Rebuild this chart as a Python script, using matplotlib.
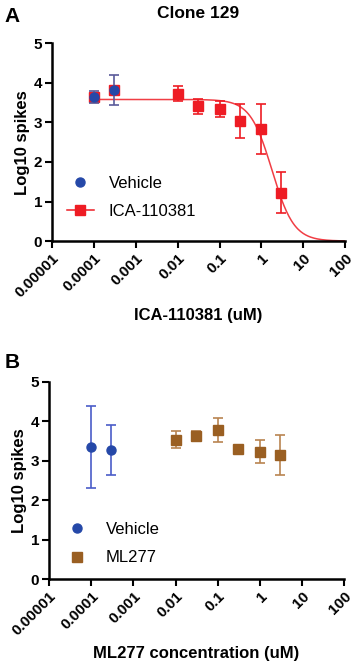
import numpy as np
import matplotlib.pyplot as plt

plt.rcParams['font.family'] = ['Liberation Sans', 'DejaVu Sans']

# Panel A data
veh_x = [1e-4, 3e-4]
veh_a_y = [3.65, 3.82]
veh_a_lo = [3.50, 3.43]
veh_a_hi = [3.80, 4.20]

ica_x = [0.01, 0.03, 0.1, 0.3, 1, 3]
ica_y = [3.73, 3.41, 3.33, 3.03, 2.84, 1.22]
ica_lo = [3.55, 3.22, 3.13, 2.60, 2.21, 0.70]
ica_hi = [3.92, 3.60, 3.53, 3.46, 3.46, 1.74]

# fitted curve params
fit_top = 3.58
fit_ic50 = 1.79
fit_hill = 1.67

# Panel B data
veh_b_y = [3.35, 3.28]
veh_b_lo = [2.32, 2.65]
veh_b_hi = [4.38, 3.91]

ml_x = [0.01, 0.03, 0.1, 0.3, 1, 3]
ml_y = [3.53, 3.62, 3.78, 3.30, 3.23, 3.14]
ml_lo = [3.31, 3.49, 3.47, 3.26, 2.95, 2.63]
ml_hi = [3.75, 3.75, 4.08, 3.34, 3.52, 3.66]

xticks = [1e-5, 1e-4, 1e-3, 1e-2, 1e-1, 1, 10, 100]
xticklabels = ['0.00001', '0.0001', '0.001', '0.01', '0.1', '1', '10', '100']

blue = '#2548a8'
red = '#ee1c24'
brown = '#9a5f22'

fig = plt.figure(figsize=(3.53, 6.66), dpi=100)
ax1 = fig.add_axes([0.147, 0.638, 0.831, 0.297])
ax2 = fig.add_axes([0.139, 0.130, 0.836, 0.297])


def style(ax):
    ax.set_xscale('log')
    ax.set_xlim(1e-5, 100)
    ax.set_ylim(0, 5)
    ax.set_xticks(xticks)
    ax.set_xticklabels(xticklabels, rotation=45, ha='right', rotation_mode='anchor',
                       fontsize=11, fontweight='bold')
    ax.minorticks_off()
    ax.set_yticks([0, 1, 2, 3, 4, 5])
    ax.set_yticklabels(['0', '1', '2', '3', '4', '5'], fontsize=11, fontweight='bold')
    for s in ['top', 'right']:
        ax.spines[s].set_visible(False)
    for s in ['left', 'bottom']:
        ax.spines[s].set_linewidth(1.8)
    ax.tick_params(direction='out', length=5, width=1.5, pad=2)
    ax.set_ylabel('Log10 spikes', fontsize=12, fontweight='bold', labelpad=3)


def yerr(y, lo, hi):
    y = np.array(y)
    return [y - np.array(lo), np.array(hi) - y]


# Panel A
style(ax1)
xx = np.logspace(-4, 2, 300)
ax1.plot(xx, fit_top / (1 + (xx / fit_ic50) ** fit_hill), color=red, lw=1.1, alpha=0.85, zorder=2)
ax1.errorbar(veh_x, veh_a_y, fmt='s', color=red, ms=7, zorder=3)
ax1.errorbar(veh_x, veh_a_y, yerr=yerr(veh_a_y, veh_a_lo, veh_a_hi), fmt='o', color=blue,
             ecolor='#5a5a9a', ms=6.5, capsize=3.5, elinewidth=1.2, capthick=1.2, zorder=4)
ax1.errorbar(ica_x, ica_y, yerr=yerr(ica_y, ica_lo, ica_hi), fmt='s', color=red, ms=7,
             capsize=3.5, elinewidth=1.2, capthick=1.2, zorder=4)
ax1.legend([plt.Line2D([], [], marker='o', color=blue, ls='', ms=6.5),
            plt.Line2D([], [], marker='s', color=red, ms=7, lw=1.1)],
           ['Vehicle', 'ICA-110381'],
           loc='center left', bbox_to_anchor=(0.0, 0.22), frameon=False, fontsize=12,
           handlelength=1.6, handletextpad=0.9, labelspacing=0.8)
ax1.set_xlabel('ICA-110381 (uM)', fontsize=12, fontweight='bold', labelpad=6)
ax1.set_title('Clone 129', fontsize=12.5, fontweight='bold', pad=18)
fig.text(0.012, 0.975, 'A', fontsize=15, fontweight='bold', va='center')

# Panel B
style(ax2)
ax2.errorbar(veh_x, veh_b_y, yerr=yerr(veh_b_y, veh_b_lo, veh_b_hi), fmt='o', color=blue,
             ecolor='#4a5cc8', ms=6.5, capsize=3.5, elinewidth=1.2, capthick=1.2, zorder=4)
ax2.errorbar(ml_x, ml_y, yerr=yerr(ml_y, ml_lo, ml_hi), fmt='s', color=brown,
             ecolor='#b98450', ms=7, capsize=3.5, elinewidth=1.2, capthick=1.2, zorder=4)
ax2.legend([plt.Line2D([], [], marker='o', color=blue, ls='', ms=6.5),
            plt.Line2D([], [], marker='s', color=brown, ls='', ms=7)],
           ['Vehicle', 'ML277'],
           loc='center left', bbox_to_anchor=(0.0, 0.18), frameon=False, fontsize=12,
           handlelength=1.6, handletextpad=0.9, labelspacing=0.8)
ax2.set_xlabel('ML277 concentration (uM)', fontsize=12, fontweight='bold', labelpad=6)
fig.text(0.012, 0.455, 'B', fontsize=15, fontweight='bold', va='center')

plt.savefig('out.png', dpi=100)
